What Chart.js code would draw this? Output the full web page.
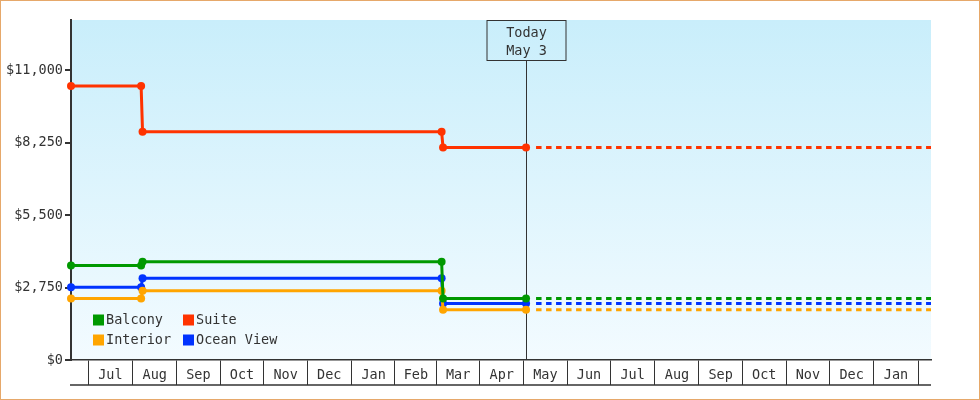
<!DOCTYPE html>
<html>
<head>
<meta charset="utf-8">
<script src="https://cdn.jsdelivr.net/npm/chart.js@4/dist/chart.umd.min.js"></script>
<style>
  html, body { margin: 0; padding: 0; background: #fff; }
  #wrap { width: 980px; height: 400px; position: relative; }
</style>
</head>
<body>
<div id="wrap"><canvas id="priceChart"></canvas></div>
<script>
// price change dates (first one is the left edge of the chart, last one is today)
const changeDates = ['2022-06-19', '2022-08-07', '2022-08-08', '2023-03-05', '2023-03-06', '2023-05-03'];
const balcony   = [3590, 3590, 3730, 3730, 2330, 2330];
const suite     = [10400, 10400, 8660, 8660, 8060, 8060];
const interior  = [2330, 2330, 2630, 2630, 1910, 1910];
const oceanView = [2760, 2760, 3100, 3100, 2140, 2140];

const todayDate = '2023-05-03';
const todayText = ['Today', 'May 3'];
const projectionStart = '2023-05-10';
const endDate = '2024-02-10';

// month labels, first one is July 2022
const monthLabels = ['Jul', 'Aug', 'Sep', 'Oct', 'Nov', 'Dec', 'Jan', 'Feb', 'Mar', 'Apr', 'May', 'Jun',
                     'Jul', 'Aug', 'Sep', 'Oct', 'Nov', 'Dec', 'Jan'];
const yTicks = [0, 2750, 5500, 8250, 11000];
const yMax = 12900;

const FONT = "'DejaVu Sans Mono', monospace";
const INK = '#333333';

// days since epoch
function day(s) {
  const p = s.split('-').map(Number);
  return Date.UTC(p[0], p[1] - 1, p[2]) / 86400000;
}
// middle of each month, used as tick positions
const monthMids = monthLabels.map((m, i) => {
  const a = Date.UTC(2022, 6 + i, 1) / 86400000;
  const b = Date.UTC(2022, 7 + i, 1) / 86400000;
  return (a + b) / 2;
});

const xs = changeDates.map(day);
const xMin = xs[0];
const xMax = day(endDate);
const xToday = day(todayDate);

function pts(vals) {
  return vals.map((v, i) => ({ x: xs[i], y: v }));
}
function projection(vals) {
  const last = vals[vals.length - 1];
  return [{ x: day(projectionStart), y: last }, { x: xMax, y: last }];
}

const series = [
  { label: 'Balcony', data: balcony, color: '#009900' },
  { label: 'Suite', data: suite, color: '#ff3300' },
  { label: 'Interior', data: interior, color: '#ffa500' },
  { label: 'Ocean View', data: oceanView, color: '#0033ff' }
];

const datasets = [];
series.forEach(s => {
  datasets.push({
    label: s.label,
    data: pts(s.data),
    borderColor: s.color,
    backgroundColor: s.color,
    borderWidth: 3,
    pointRadius: 4,
    pointHoverRadius: 4,
    pointBorderWidth: 0,
    tension: 0,
    clip: false
  });
});
series.forEach(s => {
  datasets.push({
    label: s.label + ' (projected)',
    data: projection(s.data),
    borderColor: s.color,
    borderWidth: 3,
    borderDash: [5.5, 4.5],
    pointRadius: 0,
    tension: 0
  });
});

// background gradient, frame, today marker, legend and tick box line
const decorations = {
  id: 'decorations',
  beforeDraw(chart) {
    const { ctx, chartArea: a } = chart;
    ctx.save();
    ctx.fillStyle = '#ffffff';
    ctx.fillRect(0, 0, chart.width, chart.height);
    const g = ctx.createLinearGradient(0, a.top, 0, a.bottom);
    g.addColorStop(0, '#c9eefb');
    g.addColorStop(1, '#f3fbff');
    ctx.fillStyle = g;
    ctx.fillRect(a.left, a.top, a.right - a.left, a.bottom - a.top);
    ctx.restore();
  },
  beforeDatasetsDraw(chart) {
    const { ctx, chartArea: a, scales } = chart;
    const x = Math.round(scales.x.getPixelForValue(xToday)) + 0.5;
    ctx.save();
    ctx.strokeStyle = INK;
    ctx.lineWidth = 1;
    ctx.beginPath();
    ctx.moveTo(x, a.top + 40);
    ctx.lineTo(x, a.bottom);
    ctx.stroke();
    ctx.strokeRect(x - 39.5, a.top + 0.5, 79, 40);
    ctx.fillStyle = INK;
    ctx.font = '13.5px ' + FONT;
    ctx.textAlign = 'center';
    ctx.textBaseline = 'middle';
    ctx.fillText(todayText[0], x, a.top + 13);
    ctx.fillText(todayText[1], x, a.top + 31);
    ctx.restore();
  },
  afterDraw(chart) {
    const { ctx, chartArea: a } = chart;
    ctx.save();
    // legend, two columns
    ctx.font = '13.5px ' + FONT;
    ctx.textBaseline = 'middle';
    ctx.textAlign = 'left';
    const cols = [a.left + 22, a.left + 112];
    const rows = [a.bottom - 40, a.bottom - 20];
    series.forEach((s, i) => {
      const cx = cols[i % 2];
      const cy = rows[Math.floor(i / 2)];
      ctx.fillStyle = s.color;
      ctx.fillRect(cx, cy - 5.5, 11, 11);
      ctx.fillStyle = INK;
      ctx.fillText(s.label, cx + 13, cy + 0.5);
    });
    // bottom line of the month boxes
    ctx.strokeStyle = INK;
    ctx.lineWidth = 1.5;
    ctx.beginPath();
    ctx.moveTo(a.left - 1, a.bottom + 25);
    ctx.lineTo(a.right, a.bottom + 25);
    ctx.stroke();
    // outer frame
    ctx.strokeStyle = '#e6a86a';
    ctx.lineWidth = 1;
    ctx.strokeRect(0.5, 0.5, chart.width - 1, chart.height - 1);
    ctx.restore();
  }
};

const ctx = document.getElementById('priceChart').getContext('2d');
const priceChart = new Chart(ctx, {
  type: 'line',
  data: { datasets: datasets },
  options: {
    responsive: true,
    maintainAspectRatio: false,
    animation: false,
    layout: { padding: { top: 20, right: 49, bottom: 15, left: 6 } },
    plugins: {
      legend: { display: false },
      tooltip: { enabled: false }
    },
    scales: {
      x: {
        type: 'linear',
        min: xMin,
        max: xMax,
        afterBuildTicks: scale => { scale.ticks = monthMids.map(v => ({ value: v })); },
        afterFit: scale => { scale.height = 25; },
        ticks: {
          autoSkip: false,
          maxRotation: 0,
          padding: -18,
          color: INK,
          font: { family: FONT, size: 13.5 },
          callback: (value, index) => monthLabels[index]
        },
        grid: {
          offset: true,
          drawOnChartArea: false,
          tickLength: 25,
          color: INK,
          lineWidth: 1
        },
        border: { display: true, color: INK, width: 1.5 }
      },
      y: {
        type: 'linear',
        min: 0,
        max: yMax,
        afterBuildTicks: scale => { scale.ticks = yTicks.map(v => ({ value: v })); },
        afterFit: scale => { scale.width = 65; },
        ticks: {
          padding: 2,
          color: INK,
          font: { family: FONT, size: 13.5 },
          callback: v => '$' + v.toLocaleString('en-US')
        },
        grid: {
          drawOnChartArea: false,
          tickLength: 6,
          color: INK,
          lineWidth: 2
        },
        border: { display: true, color: INK, width: 2 }
      }
    }
  },
  plugins: [decorations]
});
</script>
</body>
</html>
